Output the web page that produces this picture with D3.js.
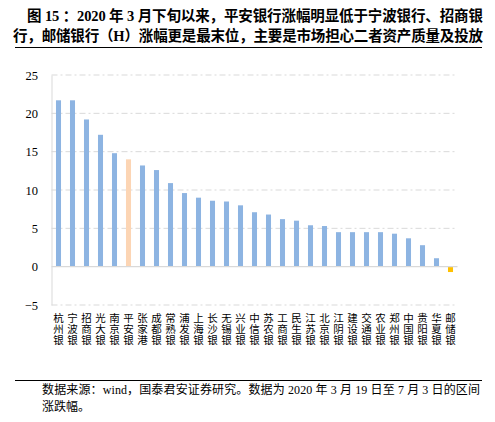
<!DOCTYPE html>
<html>
<head>
<meta charset="utf-8">
<script src="https://cdn.jsdelivr.net/npm/d3@7"></script>
<style>
body { margin: 0; background: #fff; }
text { font-family: "Liberation Serif", "Noto Sans CJK SC", serif; }
</style>
</head>
<body>
<div id="root"></div>
<script>
// banks, sorted by price change since late March 2020 (%)
var banks = ["杭州银行", "宁波银行", "招商银行", "光大银行", "南京银行", "平安银行", "张家港行", "成都银行",
    "常熟银行", "浦发银行", "上海银行", "长沙银行", "无锡银行", "兴业银行", "中信银行", "苏农银行",
    "工商银行", "民生银行", "江苏银行", "北京银行", "江阴银行", "建设银行", "交通银行", "农业银行",
    "郑州银行", "中国银行", "贵阳银行", "华夏银行", "邮储银行"];
var changes = [21.7, 21.7, 19.2, 17.2, 14.8, 14.0, 13.2, 12.6,
    10.9, 9.6, 9.0, 8.6, 8.5, 8.0, 7.1, 6.8,
    6.2, 6.0, 5.4, 5.3, 4.5, 4.5, 4.5, 4.5,
    4.3, 3.7, 2.8, 1.1, -0.7];
var yTicks = [-5, 0, 5, 10, 15, 20, 25];

var titleLines = ["图 15 ：2020 年 3 月下旬以来，平安银行涨幅明显低于宁波银行、招商银",
    "行，邮储银行（H）涨幅更是最末位，主要是市场担心二者资产质量及投放"];
var footerLines = ["数据来源：wind，国泰君安证券研究。数据为 2020 年 3 月 19 日至 7 月 3 日的区间",
    "涨跌幅。"];

var data = banks.map(function (d, i) {
    return {name: d, value: changes[i]};
});

var W = 495, H = 422;
var margin = {top: 75, right: 37.5, bottom: 117, left: 51.5};
var width = W - margin.left - margin.right,
    height = H - margin.top - margin.bottom;

var svg = d3.select("#root").append("svg")
    .attr("width", W)
    .attr("height", H);

// title block
svg.selectAll(".title")
    .data(titleLines)
    .enter()
    .append("text")
    .attr("class", "title")
    .attr("x", function (d, i) { return i === 0 ? 27 : 13; })
    .attr("y", function (d, i) { return 21 + i * 19.5; })
    .attr("textLength", function (d, i) { return i === 0 ? 456 : 470; })
    .attr("lengthAdjust", "spacing")
    .style("font-size", "14.5px")
    .style("font-weight", "bold")
    .text(function (d) { return d; });

svg.append("line")
    .attr("x1", 15).attr("x2", 482)
    .attr("y1", 47.5).attr("y2", 47.5)
    .attr("stroke", "#000").attr("stroke-width", 1);

var g = svg.append("g")
    .attr("transform", "translate(" + margin.left + "," + margin.top + ")");

var x = d3.scaleBand()
    .range([0, width])
    .domain(banks)
    .paddingInner(0.64)
    .paddingOuter(0.32);

var y = d3.scaleLinear()
    .range([height, 0])
    .domain([d3.min(yTicks), d3.max(yTicks)]);

// dashed gridlines (solid at zero, drawn later)
g.selectAll(".grid")
    .data(yTicks.filter(function (d) { return d !== 0; }))
    .enter()
    .append("line")
    .attr("class", "grid")
    .attr("x1", 0).attr("x2", width)
    .attr("y1", function (d) { return y(d); })
    .attr("y2", function (d) { return y(d); })
    .attr("stroke", "#d9d9d9")
    .attr("stroke-dasharray", "6,3,2,3");

// y axis, no tick marks
var gy = g.append("g")
    .call(d3.axisLeft(y).tickValues(yTicks).tickSize(0).tickPadding(13.5));
gy.select(".domain").attr("stroke", "#d9d9d9");
gy.selectAll("text")
    .attr("fill", "#000")
    .style("font-size", "12.5px")
    .style("font-family", "'Liberation Serif', serif");

// bars
g.selectAll(".bar")
    .data(data)
    .enter()
    .append("rect")
    .attr("class", "bar")
    .attr("x", function (d) { return x(d.name); })
    .attr("width", x.bandwidth())
    .attr("y", function (d) { return y(Math.max(0, d.value)); })
    .attr("height", function (d) { return Math.abs(y(d.value) - y(0)); })
    .attr("fill", function (d) {
        if (d.name === "平安银行") return "#fcd5b4";
        if (d.name === "邮储银行") return "#ffc000";
        return "#8db4e2";
    });

// zero line
g.append("line")
    .attr("x1", 0).attr("x2", width)
    .attr("y1", y(0)).attr("y2", y(0))
    .attr("stroke", "#d9d9d9")
    .attr("stroke-width", 1.3);

// vertical category labels, one char per row, only three rows fit
var labels = g.selectAll(".label")
    .data(banks)
    .enter()
    .append("text")
    .attr("class", "label")
    .attr("text-anchor", "middle")
    .style("font-size", "10.5px")
    .style("font-family", "'Noto Sans CJK SC', sans-serif");

labels.selectAll("tspan")
    .data(function (d) {
        return d.slice(0, 3).split("").map(function (c) { return {bank: d, ch: c}; });
    })
    .enter()
    .append("tspan")
    .attr("x", function (d) { return x(d.bank) + x.bandwidth() / 2; })
    .attr("y", function (d, i) { return height + 16.6 + i * 11; })
    .text(function (d) { return d.ch; });

// footer
svg.append("line")
    .attr("x1", 15).attr("x2", 482)
    .attr("y1", 380.5).attr("y2", 380.5)
    .attr("stroke", "#000").attr("stroke-width", 1);

svg.selectAll(".foot")
    .data(footerLines)
    .enter()
    .append("text")
    .attr("class", "foot")
    .attr("x", 42)
    .attr("y", function (d, i) { return 393.5 + i * 17; })
    .attr("textLength", function (d, i) { return i === 0 ? 438 : null; })
    .attr("lengthAdjust", "spacing")
    .style("font-size", "12px")
    .text(function (d) { return d; });
</script>
</body>
</html>
